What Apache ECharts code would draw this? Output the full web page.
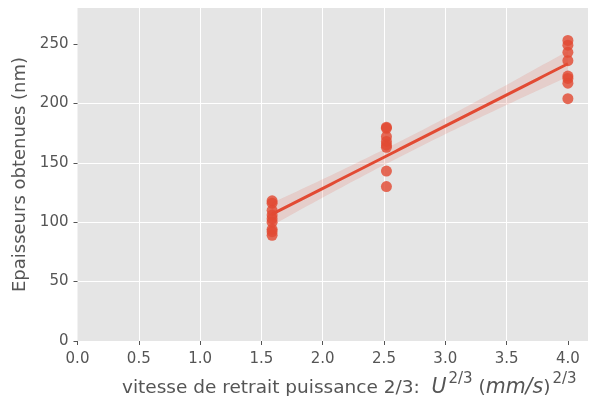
<!DOCTYPE html>
<html>
<head>
<meta charset="utf-8">
<script src="https://cdn.jsdelivr.net/npm/echarts@6/dist/echarts.min.js"></script>
<style>
  html, body { margin: 0; padding: 0; background: #ffffff; }
  #chart { width: 589px; height: 396px; }
</style>
</head>
<body>
<div id="chart"></div>
<script>
// Withdrawal speed raised to the 2/3 power, one value per group of samples
const speedGroups = [Math.pow(2, 2 / 3), Math.pow(4, 2 / 3), Math.pow(8, 2 / 3)];
// Measured thicknesses (nm) for each speed group
const thickness1 = [118, 116, 110, 106, 103, 100, 94, 92, 89];
const thickness2 = [180, 179, 172, 168, 165, 163, 143, 130];
const thickness3 = [253, 249, 243, 236, 223, 221, 217, 204];
const thicknessGroups = [thickness1, thickness2, thickness3];

const xTicks = [0, 0.5, 1.0, 1.5, 2.0, 2.5, 3.0, 3.5, 4.0];
const yTicks = [0, 50, 100, 150, 200, 250];

// Flatten into (x, y) points
const points = [];
speedGroups.forEach((x, i) => thicknessGroups[i].forEach(y => points.push([x, y])));

// Ordinary least squares fit with 95% confidence band on the mean
const n = points.length;
const mx = points.reduce((s, p) => s + p[0], 0) / n;
const my = points.reduce((s, p) => s + p[1], 0) / n;
let sxx = 0, sxy = 0;
points.forEach(p => { sxx += (p[0] - mx) ** 2; sxy += (p[0] - mx) * (p[1] - my); });
const slope = sxy / sxx;
const intercept = my - slope * mx;
let sse = 0;
points.forEach(p => { sse += (p[1] - (intercept + slope * p[0])) ** 2; });
const s = Math.sqrt(sse / (n - 2));
const tCrit = 2.069; // t(0.975, df = 23)

const xLo = Math.min(...speedGroups), xHi = Math.max(...speedGroups);
const fitLine = [], bandUpper = [], bandLower = [];
const steps = 60;
for (let k = 0; k <= steps; k++) {
  const x = xLo + (xHi - xLo) * k / steps;
  const yhat = intercept + slope * x;
  const se = s * Math.sqrt(1 / n + (x - mx) ** 2 / sxx);
  fitLine.push([x, yhat]);
  bandUpper.push([x, yhat + tCrit * se]);
  bandLower.push([x, yhat - tCrit * se]);
}
const bandPolygon = bandUpper.concat(bandLower.slice().reverse());

const red = '#E24A33';
const textColor = '#555555';
const font = 'DejaVu Sans';

const chart = echarts.init(document.getElementById('chart'), null, { renderer: 'canvas' });
chart.setOption({
  animation: false,
  backgroundColor: '#ffffff',
  grid: {
    left: 77.5, right: 1, top: 8, bottom: 55,
    outerBoundsMode: 'none', containLabel: false,
    show: true, backgroundColor: '#E5E5E5', borderWidth: 0
  },
  xAxis: {
    type: 'value', min: 0, max: 4.164,
    axisLine: { show: false },
    axisTick: { show: true, customValues: xTicks, length: 4, lineStyle: { color: textColor, width: 1 } },
    axisLabel: { customValues: xTicks, color: textColor, fontFamily: font, fontSize: 15, margin: 11,
      formatter: v => v.toFixed(1) },
    splitLine: { show: true, showMinLine: false, showMaxLine: false, lineStyle: { color: '#ffffff', width: 1 } },
    name: '{t|vitesse de retrait puissance 2/3:  }{i|U}{sup|2/3}{t| (}{i|mm/s}{t|)}{sup|2/3}',
    nameLocation: 'middle', nameGap: 27,
    nameTextStyle: {
      color: textColor, fontFamily: font, fontSize: 18, padding: [0, 0, 0, 33],
      rich: {
        t: { color: textColor, fontFamily: font, fontSize: 18.5, lineHeight: 26, verticalAlign: 'bottom' },
        i: { color: textColor, fontFamily: font, fontSize: 20.5, fontStyle: 'italic', lineHeight: 26, verticalAlign: 'bottom' },
        sup: { color: textColor, fontFamily: font, fontSize: 15, lineHeight: 26, verticalAlign: 'top', padding: [0, 0, 0, 2] }
      }
    }
  },
  yAxis: {
    type: 'value', min: 0, max: 280.3,
    axisLine: { show: false },
    axisTick: { show: true, customValues: yTicks, length: 4, lineStyle: { color: textColor, width: 1 } },
    axisLabel: { customValues: yTicks, color: textColor, fontFamily: font, fontSize: 15, margin: 9 },
    splitLine: { show: true, showMinLine: false, showMaxLine: false, lineStyle: { color: '#ffffff', width: 1 } },
    name: 'Epaisseurs obtenues (nm)',
    nameLocation: 'middle', nameGap: 44, nameRotate: 90,
    nameTextStyle: { color: textColor, fontFamily: font, fontSize: 18 }
  },
  series: [
    {
      type: 'scatter', data: points, symbolSize: 11, z: 2,
      itemStyle: { color: red, opacity: 0.82 }
    },
    {
      // confidence band drawn as one polygon through the axis scales
      type: 'custom', silent: true, z: 3,
      data: [0],
      renderItem: (params, api) => ({
        type: 'polygon',
        shape: { points: bandPolygon.map(p => api.coord(p)) },
        style: { fill: red, opacity: 0.15 }
      })
    },
    {
      type: 'line', data: fitLine, symbol: 'none', z: 4,
      lineStyle: { color: red, width: 3 }
    }
  ]
});
</script>
</body>
</html>
